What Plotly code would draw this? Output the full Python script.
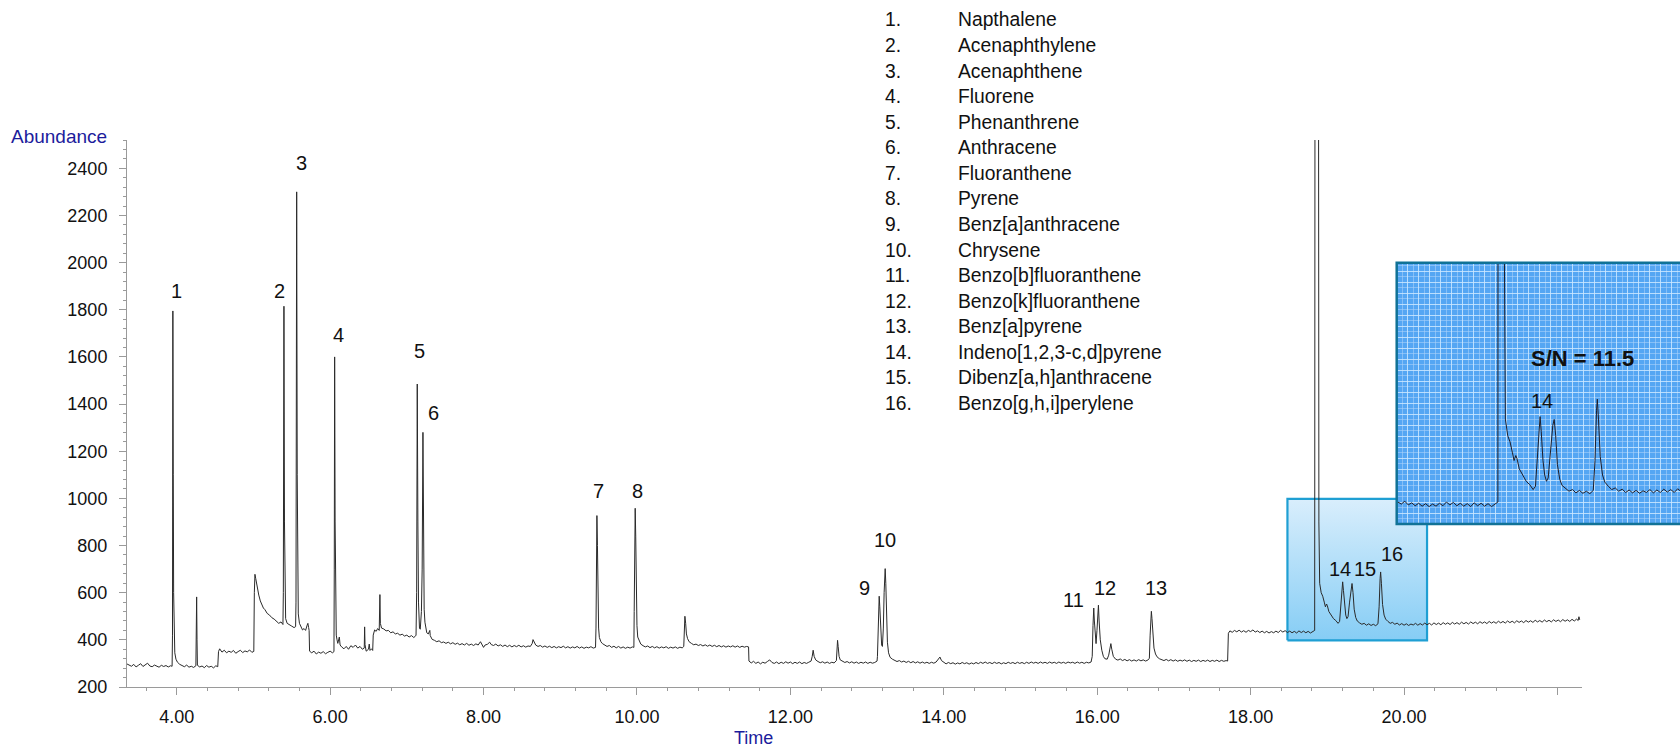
import plotly.graph_objects as go

# ---------------- data ----------------
# chromatogram: (retention time [min], abundance)
trace_part1 = [
    (3.35, 298), (3.38, 293), (3.41, 288), (3.44, 296), (3.47, 285), (3.50, 292), (3.53, 299), (3.56, 287),
    (3.59, 294), (3.62, 301), (3.65, 289), (3.68, 286), (3.71, 293), (3.74, 290), (3.77, 284), (3.80, 292),
    (3.83, 287), (3.86, 291), (3.89, 285), (3.92, 290), (3.94, 288),
    (3.945, 420), (3.950, 1795), (3.955, 1100), (3.960, 600), (3.965, 420), (3.975, 345), (3.99, 318),
    (4.01, 305), (4.04, 296), (4.07, 291), (4.10, 286), (4.13, 293), (4.16, 284), (4.19, 288), (4.22, 283),
    (4.25, 290), (4.255, 420), (4.260, 582), (4.265, 400), (4.27, 292), (4.30, 285), (4.33, 289), (4.36, 282),
    (4.39, 291), (4.42, 284), (4.45, 288), (4.48, 281), (4.51, 290), (4.535, 286),
    (4.545, 350), (4.56, 362), (4.59, 348), (4.62, 356), (4.65, 345), (4.68, 352), (4.71, 347), (4.74, 355),
    (4.77, 343), (4.80, 350), (4.83, 356), (4.86, 346), (4.89, 353), (4.92, 349), (4.95, 357), (4.98, 347),
    (5.005, 351), (5.012, 600), (5.02, 678), (5.03, 660), (5.05, 620), (5.07, 590), (5.09, 565), (5.11, 548),
    (5.13, 535), (5.15, 528), (5.18, 512), (5.21, 505), (5.24, 494), (5.27, 488), (5.30, 478), (5.33, 470),
    (5.36, 476), (5.385, 465), (5.390, 600), (5.398, 1815), (5.405, 900), (5.41, 560), (5.42, 490),
    (5.44, 470), (5.47, 462), (5.50, 458), (5.53, 452), (5.55, 456),
    (5.555, 560), (5.564, 2300), (5.571, 1100), (5.577, 620), (5.585, 510), (5.60, 470), (5.62, 455),
    (5.64, 442), (5.66, 448), (5.68, 440), (5.70, 462), (5.71, 470), (5.72, 452), (5.726, 440),
]
trace_part2 = [
    (5.732, 352), (5.76, 345), (5.79, 352), (5.82, 340), (5.85, 348), (5.88, 343), (5.91, 350), (5.94, 341),
    (5.97, 347), (6.00, 352), (6.03, 345), (6.05, 350),
    (6.054, 700), (6.059, 1600), (6.065, 900), (6.07, 520), (6.08, 420), (6.09, 400), (6.10, 385),
    (6.12, 412), (6.13, 378), (6.15, 370), (6.18, 362), (6.21, 372), (6.24, 360), (6.27, 375), (6.30, 368),
    (6.33, 378), (6.36, 365), (6.39, 372), (6.42, 360), (6.445, 365), (6.45, 455), (6.455, 380), (6.47, 352),
    (6.50, 360), (6.51, 382), (6.52, 355), (6.54, 362), (6.555, 355),
    (6.562, 420), (6.58, 442), (6.60, 436), (6.62, 448), (6.64, 440), (6.649, 592), (6.655, 470),
    (6.67, 450), (6.70, 446), (6.73, 438), (6.76, 440), (6.79, 430), (6.82, 434), (6.85, 425), (6.88, 428),
    (6.91, 420), (6.94, 424), (6.97, 416), (7.00, 420), (7.03, 412), (7.06, 418), (7.09, 410), (7.11, 415),
    (7.12, 420), (7.128, 600), (7.136, 1485), (7.144, 900), (7.152, 560), (7.165, 450), (7.175, 445),
    (7.19, 520), (7.200, 700), (7.210, 1280), (7.218, 800), (7.226, 530), (7.236, 475), (7.245, 462),
    (7.26, 430), (7.28, 425), (7.30, 440), (7.305, 418), (7.33, 402), (7.36, 398), (7.39, 392), (7.42, 396),
    (7.45, 388), (7.48, 391), (7.51, 385), (7.54, 390), (7.57, 383), (7.60, 388), (7.63, 381), (7.66, 386),
    (7.69, 379), (7.72, 384), (7.75, 378), (7.78, 385), (7.81, 377), (7.84, 382), (7.87, 376), (7.90, 383),
    (7.93, 378), (7.96, 392), (7.98, 380), (8.00, 368), (8.02, 378), (8.05, 381), (8.08, 390), (8.10, 380),
    (8.13, 376), (8.16, 382), (8.19, 374), (8.22, 379), (8.25, 372), (8.28, 378), (8.31, 371), (8.34, 377),
    (8.37, 370), (8.40, 376), (8.43, 371), (8.46, 377), (8.49, 370), (8.52, 375), (8.55, 369), (8.58, 374),
    (8.61, 372), (8.635, 385), (8.645, 401), (8.66, 388), (8.68, 378), (8.71, 372), (8.74, 376), (8.77, 369),
    (8.80, 374), (8.83, 368), (8.86, 373), (8.89, 367), (8.92, 372), (8.95, 366), (8.98, 371), (9.01, 367),
    (9.04, 373), (9.07, 366), (9.10, 371), (9.13, 365), (9.16, 370), (9.19, 366), (9.22, 372), (9.25, 365),
    (9.28, 370), (9.31, 364), (9.34, 369), (9.37, 366), (9.40, 371), (9.43, 365), (9.46, 368),
]
trace_part3 = [
    (9.466, 450), (9.472, 750), (9.478, 927), (9.485, 800), (9.492, 560), (9.50, 450), (9.51, 410),
    (9.53, 392), (9.55, 384), (9.58, 378), (9.61, 372), (9.64, 376), (9.67, 368), (9.70, 373), (9.73, 366),
    (9.76, 372), (9.79, 365), (9.82, 370), (9.85, 364), (9.88, 369), (9.91, 365), (9.94, 370), (9.96, 368),
    (9.964, 520), (9.970, 800), (9.977, 958), (9.984, 840), (9.991, 600), (10.00, 460), (10.01, 412),
    (10.03, 392), (10.05, 382), (10.08, 375), (10.11, 370), (10.14, 374), (10.17, 367), (10.20, 372),
    (10.23, 366), (10.26, 371), (10.29, 365), (10.32, 370), (10.35, 366), (10.38, 371), (10.41, 364),
    (10.44, 369), (10.47, 365), (10.50, 370), (10.53, 364), (10.56, 369), (10.59, 366), (10.61, 372),
    (10.615, 420), (10.625, 500), (10.635, 470), (10.645, 425), (10.66, 405), (10.68, 392), (10.71, 385),
    (10.74, 379), (10.77, 382), (10.80, 376), (10.83, 380), (10.86, 374), (10.89, 379), (10.92, 373),
    (10.95, 378), (10.98, 372), (11.01, 377), (11.04, 371), (11.07, 376), (11.10, 370), (11.13, 375),
    (11.16, 369), (11.19, 374), (11.22, 370), (11.25, 375), (11.28, 369), (11.31, 374), (11.34, 368),
    (11.37, 373), (11.40, 369), (11.43, 372), (11.455, 370),
    (11.46, 310), (11.49, 302), (11.52, 309), (11.55, 300), (11.58, 306), (11.61, 298), (11.64, 305),
    (11.67, 301), (11.70, 308), (11.73, 315), (11.76, 304), (11.79, 300), (11.82, 306), (11.85, 299),
    (11.88, 305), (11.91, 300), (11.94, 307), (11.97, 301), (12.00, 306), (12.03, 299), (12.06, 305),
    (12.09, 300), (12.12, 306), (12.15, 299), (12.18, 304), (12.21, 300), (12.24, 305), (12.27, 310),
    (12.285, 330), (12.297, 356), (12.31, 330), (12.33, 315), (12.36, 308), (12.39, 303), (12.42, 307),
    (12.45, 301), (12.48, 306), (12.51, 300), (12.54, 305), (12.57, 302), (12.60, 312), (12.608, 370),
    (12.615, 398), (12.623, 372), (12.635, 330), (12.65, 315), (12.68, 308), (12.71, 304), (12.74, 308),
    (12.77, 302), (12.80, 307), (12.83, 301), (12.86, 306), (12.89, 300), (12.92, 305), (12.95, 301),
    (12.98, 306), (13.01, 300), (13.04, 305), (13.07, 301), (13.10, 304), (13.13, 310),
]
trace_part4 = [
    (13.135, 330), (13.145, 460), (13.152, 560), (13.158, 585), (13.166, 540), (13.176, 440), (13.190, 378),
    (13.200, 372), (13.212, 450), (13.222, 600), (13.230, 690), (13.236, 702), (13.244, 640), (13.254, 500),
    (13.265, 390), (13.28, 345), (13.30, 326), (13.33, 318), (13.36, 312), (13.39, 308), (13.42, 312),
    (13.45, 306), (13.48, 310), (13.51, 304), (13.54, 309), (13.57, 303), (13.60, 308), (13.63, 302),
    (13.66, 307), (13.69, 301), (13.72, 306), (13.75, 301), (13.78, 305), (13.81, 300), (13.84, 305),
    (13.87, 301), (13.90, 306), (13.93, 318), (13.95, 327), (13.97, 312), (14.00, 303), (14.03, 298),
    (14.06, 304), (14.09, 299), (14.12, 303), (14.15, 297), (14.18, 302), (14.21, 298), (14.24, 304),
    (14.27, 299), (14.30, 303), (14.33, 297), (14.36, 302), (14.39, 298), (14.42, 304), (14.45, 299),
    (14.48, 305), (14.51, 300), (14.54, 306), (14.57, 300), (14.60, 304), (14.63, 299), (14.66, 305),
    (14.69, 300), (14.72, 304), (14.75, 298), (14.78, 303), (14.81, 299), (14.84, 305), (14.87, 300),
    (14.90, 304), (14.93, 299), (14.96, 305), (14.99, 300), (15.02, 304), (15.05, 299), (15.08, 305),
    (15.11, 300), (15.14, 306), (15.17, 301), (15.20, 305), (15.23, 300), (15.26, 306), (15.29, 301),
    (15.32, 305), (15.35, 300), (15.38, 306), (15.41, 301), (15.44, 305), (15.47, 300), (15.50, 306),
    (15.53, 301), (15.56, 305), (15.59, 300), (15.62, 306), (15.65, 302), (15.68, 305), (15.71, 300),
    (15.74, 306), (15.77, 301), (15.80, 305), (15.83, 300), (15.86, 305), (15.89, 302), (15.92, 306),
    (15.935, 330), (15.945, 460), (15.955, 535), (15.963, 480), (15.975, 400), (15.985, 384), (15.997, 440),
    (16.007, 520), (16.016, 547), (16.025, 480), (16.04, 400), (16.06, 356), (16.08, 330), (16.10, 320),
    (16.13, 318), (16.15, 335), (16.165, 365), (16.178, 384), (16.19, 360), (16.21, 330), (16.24, 318),
    (16.27, 314), (16.30, 319), (16.33, 312), (16.36, 317), (16.39, 311), (16.42, 316), (16.45, 310),
    (16.48, 315), (16.51, 310), (16.54, 316), (16.57, 311), (16.60, 315), (16.63, 310), (16.66, 314),
    (16.68, 322), (16.69, 420), (16.698, 500), (16.706, 521), (16.714, 490), (16.725, 420), (16.74, 365),
    (16.76, 340), (16.78, 328), (16.81, 320), (16.84, 316), (16.87, 312), (16.90, 317), (16.93, 311),
    (16.96, 316), (16.99, 310), (17.02, 315), (17.05, 309), (17.08, 314), (17.11, 310), (17.14, 315),
    (17.17, 309), (17.20, 314), (17.23, 308), (17.26, 313), (17.29, 309), (17.32, 314), (17.35, 308),
    (17.38, 313), (17.41, 309), (17.44, 314), (17.47, 308), (17.50, 313), (17.53, 309), (17.56, 314),
    (17.59, 308), (17.62, 313), (17.65, 309), (17.68, 312), (17.70, 310),
]
trace_part5 = [
    (17.71, 428), (17.73, 438), (17.76, 432), (17.79, 440), (17.82, 434), (17.85, 441), (17.88, 433),
    (17.91, 439), (17.94, 432), (17.97, 440), (18.00, 435), (18.03, 442), (18.06, 433), (18.09, 438),
    (18.12, 431), (18.15, 437), (18.18, 430), (18.21, 436), (18.24, 429), (18.27, 435), (18.30, 430),
    (18.33, 437), (18.36, 431), (18.39, 440), (18.42, 433), (18.45, 439), (18.48, 431), (18.51, 437),
    (18.54, 430), (18.57, 436), (18.60, 429), (18.63, 438), (18.66, 431), (18.69, 437), (18.72, 430),
    (18.75, 436), (18.78, 429), (18.81, 435), (18.83, 437),
    (18.835, 440), (18.840, 3400), (18.884, 3400), (18.890, 900), (18.90, 640), (18.92, 600), (18.94, 585),
    (18.96, 560), (18.975, 540), (18.99, 552), (19.00, 545), (19.02, 520), (19.05, 505), (19.08, 490),
    (19.11, 482), (19.14, 470), (19.16, 478), (19.175, 540), (19.19, 620), (19.200, 646), (19.21, 610),
    (19.225, 540), (19.24, 505), (19.255, 490), (19.27, 498), (19.29, 560), (19.310, 625), (19.322, 639),
    (19.335, 600), (19.35, 530), (19.37, 495), (19.39, 480), (19.42, 472), (19.45, 466), (19.48, 470),
    (19.51, 462), (19.54, 468), (19.57, 461), (19.60, 466), (19.63, 460), (19.66, 468), (19.675, 540),
    (19.688, 660), (19.695, 688), (19.705, 640), (19.72, 550), (19.74, 505), (19.76, 488), (19.79, 478),
    (19.82, 470), (19.85, 474), (19.88, 466), (19.91, 471), (19.94, 463), (19.97, 469), (20.00, 462),
    (20.03, 468), (20.06, 461), (20.09, 467), (20.12, 463), (20.15, 470), (20.18, 462), (20.21, 469),
    (20.24, 463), (20.27, 471), (20.30, 464), (20.33, 470), (20.36, 463), (20.39, 472), (20.42, 465),
    (20.45, 471), (20.48, 464), (20.51, 473), (20.54, 466), (20.57, 472), (20.60, 465), (20.63, 474),
    (20.66, 467), (20.69, 473), (20.72, 466), (20.75, 475), (20.78, 468), (20.81, 474), (20.84, 467),
    (20.87, 476), (20.90, 469), (20.93, 475), (20.96, 468), (20.99, 477), (21.02, 470), (21.05, 476),
    (21.08, 469), (21.11, 478), (21.14, 471), (21.17, 477), (21.20, 470), (21.23, 479), (21.26, 472),
    (21.29, 478), (21.32, 471), (21.35, 480), (21.38, 473), (21.41, 479), (21.44, 472), (21.47, 481),
    (21.50, 474), (21.53, 480), (21.56, 473), (21.59, 482), (21.62, 475), (21.65, 481), (21.68, 474),
    (21.71, 483), (21.74, 476), (21.77, 482), (21.80, 475), (21.83, 484), (21.86, 477), (21.89, 483),
    (21.92, 476), (21.95, 485), (21.98, 478), (22.01, 484), (22.04, 477), (22.07, 486), (22.10, 479),
    (22.13, 485), (22.16, 478), (22.19, 487), (22.22, 480), (22.25, 488), (22.27, 482), (22.28, 498),
    (22.29, 485),
]
chromatogram = trace_part1 + trace_part2 + trace_part3 + trace_part4 + trace_part5
time = [p[0] for p in chromatogram]
abundance = [p[1] for p in chromatogram]

# peak labels
peak_numbers = [str(i) for i in range(1, 17)]
label_time = [4.00, 5.337, 5.633, 6.106, 7.171, 7.352, 9.495, 10.008, 12.97, 13.231, 15.685, 16.108,
              16.77, 19.16, 19.487, 19.848]
label_abundance = [1880, 1880, 2421, 1693, 1627, 1364, 1031, 1031, 620, 823, 568, 620, 620, 702, 702, 763]

compounds = ["Napthalene", "Acenaphthylene", "Acenaphthene", "Fluorene", "Phenanthrene", "Anthracene",
             "Fluoranthene", "Pyrene", "Benz[a]anthracene", "Chrysene", "Benzo[b]fluoranthene",
             "Benzo[k]fluoranthene", "Benz[a]pyrene", "Indeno[1,2,3-c,d]pyrene", "Dibenz[a,h]anthracene",
             "Benzo[g,h,i]perylene"]

x_tick_values = [4, 6, 8, 10, 12, 14, 16, 18, 20, 22]
x_tick_text = ["4.00", "6.00", "8.00", "10.00", "12.00", "14.00", "16.00", "18.00", "20.00", ""]
y_tick_values = [200, 400, 600, 800, 1000, 1200, 1400, 1600, 1800, 2000, 2200, 2400]

zoom_window_time = [18.48, 20.30]
zoom_window_abundance = [398, 998]
signal_to_noise = "S/N = 11.5"

# ---------------- layout helpers (pixel -> paper) ----------------
W, H = 1680, 750
ML, MR, MT, MB = 127, 0, 140, 63
PW, PH = W - ML - MR, H - MT - MB


def px(x):
    return (x - ML) / PW


def py(y):
    return (H - MB - y) / PH


FONT = "Liberation Sans, Arial, sans-serif"
AXIS_GREY = "#9a9a9a"

fig = go.Figure()

# light-blue highlight box (under the trace)
bx = [zoom_window_time[0], zoom_window_time[1], zoom_window_time[1], zoom_window_time[0], zoom_window_time[0]]
byy = [zoom_window_abundance[0], zoom_window_abundance[0], zoom_window_abundance[1], zoom_window_abundance[1],
       zoom_window_abundance[0]]
fig.add_trace(go.Scatter(
    x=bx, y=byy, mode="lines", fill="toself",
    fillgradient=dict(type="vertical", start=zoom_window_abundance[0], stop=zoom_window_abundance[1],
                      colorscale=[[0, "#86cdf5"], [1, "#d9eefc"]]),
    line=dict(color="#1f9fd3", width=2.2), hoverinfo="skip", showlegend=False,
    xaxis="x", yaxis="y"))

# main chromatogram
fig.add_trace(go.Scatter(x=time, y=abundance, mode="lines", line=dict(color="#2a2a2a", width=1),
                         showlegend=False, xaxis="x", yaxis="y"))

# inset (enlarged) chromatogram
fig.add_trace(go.Scatter(x=time, y=abundance, mode="lines", line=dict(color="#1e1e2a", width=1),
                         showlegend=False, xaxis="x2", yaxis="y2"))

main_x_end = px(1582)
inset_x0, inset_y0, inset_y1 = px(1396.7), py(524), py(262.7)
inset_xr = [17.96, 20.41]
inset_yr = [387, 1017]

fig.update_layout(
    width=W, height=H,
    margin=dict(l=ML, r=MR, t=MT, b=MB),
    paper_bgcolor="white", plot_bgcolor="white",
    font=dict(family=FONT, color="#111"),
    xaxis=dict(domain=[0, main_x_end], range=[3.352, 22.32], anchor="y",
               showgrid=False, zeroline=False, showline=True, linecolor=AXIS_GREY, linewidth=1,
               tickmode="array", tickvals=x_tick_values, ticktext=x_tick_text,
               ticks="outside", ticklen=7, tickcolor=AXIS_GREY, tickwidth=1,
               tickfont=dict(size=18, family=FONT, color="#111"), ticklabelstandoff=6,
               minor=dict(dtick=0.4, tick0=4, ticks="outside", ticklen=3, tickcolor=AXIS_GREY)),
    yaxis=dict(domain=[0, 1], range=[200, 2520], anchor="x",
               showgrid=False, zeroline=False, showline=True, linecolor=AXIS_GREY, linewidth=1,
               tickmode="array", tickvals=y_tick_values,
               ticks="outside", ticklen=7, tickcolor=AXIS_GREY, tickwidth=1,
               tickfont=dict(size=18, family=FONT, color="#111"), ticklabelstandoff=8,
               minor=dict(dtick=40, tick0=200, ticks="outside", ticklen=3, tickcolor=AXIS_GREY)),
    xaxis2=dict(domain=[inset_x0, 1], range=inset_xr, anchor="y2",
                showline=False, zeroline=False, showticklabels=False, ticks="",
                showgrid=True, gridcolor="rgba(205,232,255,0.85)", gridwidth=1,
                tick0=inset_xr[0], dtick=0.0952,
                minor=dict(showgrid=True, dtick=0.0476, tick0=inset_xr[0],
                           gridcolor="rgba(175,212,250,0.55)", gridwidth=1)),
    yaxis2=dict(domain=[inset_y0, inset_y1], range=inset_yr, anchor="x2",
                showline=False, zeroline=False, showticklabels=False, ticks="",
                showgrid=True, gridcolor="rgba(205,232,255,0.85)", gridwidth=1,
                tick0=inset_yr[0], dtick=26.5,
                minor=dict(showgrid=True, dtick=13.25, tick0=inset_yr[0],
                           gridcolor="rgba(175,212,250,0.55)", gridwidth=1)),
)

# inset background + border
fig.add_shape(type="rect", xref="x2", yref="y2", x0=inset_xr[0], x1=inset_xr[1], y0=inset_yr[0],
              y1=inset_yr[1], layer="below", fillcolor="#55a6f3", line=dict(width=0))
fig.add_shape(type="rect", xref="paper", yref="paper", x0=inset_x0, x1=1.01, y0=inset_y0, y1=inset_y1,
              layer="above", fillcolor="rgba(0,0,0,0)", line=dict(color="#117296", width=2.5))

annotations = []
# peak numbers
for n, t, a in zip(peak_numbers, label_time, label_abundance):
    annotations.append(dict(x=t, y=a, xref="x", yref="y", text=n, showarrow=False,
                            font=dict(size=20, family=FONT, color="#111"), xanchor="center", yanchor="middle"))
# compound list
row0, row_step = 20, 25.56
for i, name in enumerate(compounds):
    yy = py(row0 + i * row_step)
    annotations.append(dict(x=px(883), y=yy, xref="paper", yref="paper", text=f"{i + 1}.", showarrow=False,
                            font=dict(size=19.3, family=FONT, color="#111"), xanchor="left", yanchor="middle"))
    annotations.append(dict(x=px(956), y=yy, xref="paper", yref="paper", text=name, showarrow=False,
                            font=dict(size=19.3, family=FONT, color="#111"), xanchor="left", yanchor="middle"))
# axis titles
annotations.append(dict(x=px(109), y=py(136.7), xref="paper", yref="paper", text="Abundance", showarrow=False,
                        font=dict(size=19, family=FONT, color="#1c1c9c"), xanchor="right", yanchor="middle"))
annotations.append(dict(x=px(753), y=py(738), xref="paper", yref="paper", text="Time", showarrow=False,
                        font=dict(size=18, family=FONT, color="#1c1c9c"), xanchor="center", yanchor="middle"))
# inset texts
annotations.append(dict(x=px(1582), y=py(358), xref="paper", yref="paper", text=f"<b>{signal_to_noise}</b>",
                        showarrow=False, font=dict(size=22, family=FONT, color="#111"),
                        xanchor="center", yanchor="middle"))
annotations.append(dict(x=px(1542.3), y=py(400.7), xref="paper", yref="paper", text="14", showarrow=False,
                        font=dict(size=20, family=FONT, color="#111"), xanchor="center", yanchor="middle"))
fig.update_layout(annotations=annotations)

fig.write_html("out.html")
